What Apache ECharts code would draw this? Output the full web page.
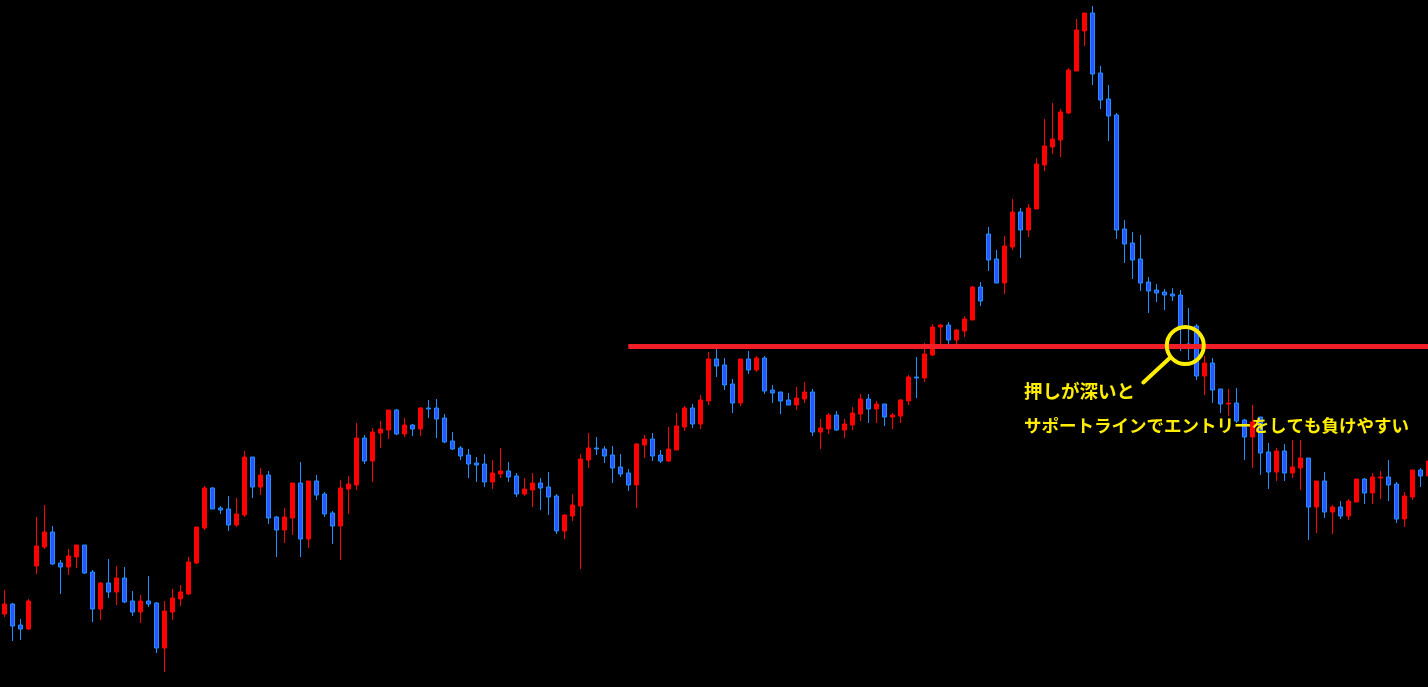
<!DOCTYPE html>
<html>
<head>
<meta charset="utf-8">
<script src="https://cdn.jsdelivr.net/npm/echarts@6/dist/echarts.min.js"></script>
<style>
html,body{margin:0;padding:0;background:#000;}
#chart{width:1428px;height:687px;}
</style>
</head>
<body>
<div id="chart"></div>
<script>
// OHLC values (price points), one entry per candle
const opens = [73,83,62,58,121,140,155,124,120,130,142,115,78,104,95,109,86,75,86,84,39,75,88,93,124,
159,199,179,178,162,172,230,200,212,170,157,169,204,148,206,193,174,161,198,202,249,226,254,257,277,
253,262,258,279,279,269,246,239,232,224,223,205,213,216,211,193,197,204,200,191,156,171,181,227,239,
238,232,220,214,202,242,248,232,226,237,260,279,263,286,328,322,303,284,328,317,329,297,295,287,282,
288,295,255,258,272,257,262,273,288,278,283,270,271,286,310,309,332,360,362,347,356,367,400,453,428,
404,440,475,457,478,522,540,547,574,616,656,674,614,588,572,458,444,428,405,397,395,393,392,343,361,
311,324,298,283,284,267,250,270,235,215,236,214,219,229,180,206,175,180,171,185,208,194,209,210,203,
168,190,217,211];
const closes = [83,61,58,86,141,155,123,120,131,142,114,78,104,95,109,85,75,86,83,39,76,89,95,125,160,
199,178,177,162,173,230,200,212,169,157,170,204,148,206,192,173,161,199,203,249,226,255,258,277,253,
262,258,279,278,268,245,238,231,223,222,205,214,216,210,193,198,204,199,190,156,172,182,228,239,238,
231,219,213,202,243,248,231,226,238,261,279,263,287,328,321,302,284,328,317,329,296,294,286,282,289,
295,255,259,272,257,263,274,288,278,283,270,272,287,310,309,333,360,362,347,357,368,400,386,427,404,
441,475,457,479,523,541,548,575,617,657,674,613,587,571,457,443,427,404,396,394,392,391,360,339,311,
324,297,283,284,266,250,265,234,215,236,214,220,229,180,206,175,180,171,186,208,194,210,210,202,168,
191,217,211,226];
const lows = [70,46,47,57,113,138,122,93,112,119,113,65,67,89,82,84,71,64,80,34,15,67,81,92,123,
157,178,173,156,160,170,189,192,163,130,144,152,130,139,187,170,143,127,173,197,223,205,239,248,252,
250,251,251,269,249,244,237,227,209,205,200,198,209,205,190,191,180,177,172,153,148,166,118,219,232,
224,204,210,196,179,229,226,224,225,237,256,259,258,282,310,297,274,281,313,315,293,284,273,282,277,
284,251,238,253,256,249,257,266,264,264,261,258,264,282,289,305,331,341,343,343,350,367,381,416,404,
393,437,429,450,478,516,533,530,573,616,641,602,578,546,448,424,408,396,374,385,377,386,336,327,307,
292,284,274,271,264,227,219,212,198,206,206,209,197,147,154,169,153,168,167,185,183,183,188,186,164,
160,187,200,207];
const highs = [97,84,68,88,170,182,161,127,138,142,142,117,105,128,121,120,96,92,111,85,86,98,102,130,160,
201,200,181,191,189,236,230,219,216,171,179,204,225,206,212,195,176,207,211,264,252,259,266,277,278,
269,263,280,287,288,273,255,241,238,230,233,227,239,225,214,209,214,209,215,193,173,193,233,254,250,
241,241,233,218,244,252,254,237,260,274,281,283,292,335,338,329,308,328,336,331,331,302,295,294,300,
305,298,268,274,276,268,280,293,293,286,283,274,288,312,330,344,363,363,365,358,371,401,405,460,437,
451,488,479,483,529,568,584,578,619,668,674,681,621,602,574,467,455,452,410,403,398,399,397,379,363,
331,329,298,298,299,268,282,270,244,239,243,247,247,229,206,215,182,186,188,208,209,214,216,227,205,
195,217,219,226];
const supportLevel = 340.5;      // horizontal support line price
const supportFrom = 78;          // candle index where the support line starts
const noteLine1 = '押しが深いと';
const noteLine2 = 'サポートラインでエントリーをしても負けやすい';

const categories = opens.map((_, i) => String(i + 1));
const ohlc = opens.map((o, i) => [o, closes[i], lows[i], highs[i]]);

const chart = echarts.init(document.getElementById('chart'), null, {renderer: 'canvas'});
const yellow = '#ffee00';
chart.setOption({
  backgroundColor: '#000000',
  animation: false,
  grid: {left: 0.3, top: 0, bottom: 0, width: 1432, outerBoundsMode: 'none', containLabel: false},
  xAxis: {
    type: 'category', data: categories, boundaryGap: true,
    axisLine: {show: false}, axisTick: {show: false}, axisLabel: {show: false}, splitLine: {show: false}
  },
  yAxis: {
    type: 'value', min: 0, max: 687, scale: false,
    axisLine: {show: false}, axisTick: {show: false}, axisLabel: {show: false}, splitLine: {show: false}
  },
  series: [{
    type: 'candlestick',
    data: ohlc,
    barWidth: 4,
    clip: false,
    itemStyle: {
      color: '#ff0000', borderColor: '#ff0000',
      color0: '#2a55ff', borderColor0: '#1e90ff',
      borderWidth: 1
    },
    markLine: {
      silent: true, symbol: ['none', 'none'], animation: false,
      label: {show: false},
      lineStyle: {color: '#f01e26', width: 5, type: 'solid'},
      data: [[{coord: [supportFrom, supportLevel]}, {coord: [opens.length - 1, supportLevel]}]]
    }
  }]
});

// Annotation anchored to the support line at the candle where price broke it
const p = chart.convertToPixel({seriesIndex: 0}, [148, supportLevel]);
const cx = p[0] - 3, cy = p[1] - 1;
chart.setOption({
  graphic: [
    {type: 'circle', z: 100, shape: {cx: cx, cy: cy, r: 18.5},
     style: {fill: 'none', stroke: yellow, lineWidth: 4}},
    {type: 'line', z: 100, shape: {x1: cx - 15, y1: cy + 12, x2: cx - 42, y2: cy + 37},
     style: {stroke: yellow, lineWidth: 4, lineCap: 'round'}},
    {type: 'text', z: 100, left: 1024, top: 382,
     style: {text: noteLine1, fill: yellow, font: 'bold 18.5px "Noto Sans CJK JP"'}},
    {type: 'text', z: 100, left: 1024, top: 417,
     style: {text: noteLine2, fill: yellow, font: 'bold 17.5px "Noto Sans CJK JP"'}}
  ]
});
</script>
</body>
</html>
